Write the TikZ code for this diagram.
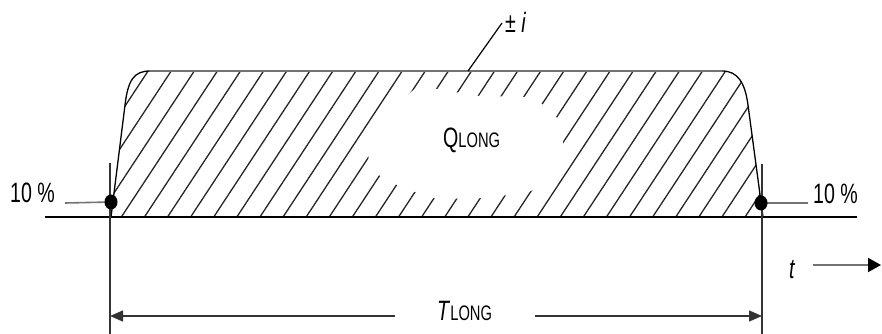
\documentclass[tikz,border=0pt]{standalone}
\usepackage{fontspec}
\newfontfamily\lf[FakeStretch=0.7]{Liberation Sans}
\usetikzlibrary{arrows.meta}
\newcommand\subcaps[1]{{\fontsize{21}{22}\selectfont #1}}
\begin{document}
\begin{tikzpicture}[x=1pt,y=-1pt,
  lbl/.style={font=\lf\fontsize{28}{30}\selectfont, inner sep=0pt, anchor=base west},
  hatch/.style={line width=1.3pt, black!85},
  outline/.style={line width=1.3pt, black},
  axisline/.style={line width=2pt, black},
  extline/.style={line width=1.3pt, black!80},
  leader/.style={line width=1.6pt, black!55},
  dimtip/.style={-{Triangle[length=13pt,width=11pt]}},
  dot/.style={fill=black}]
\useasboundingbox (0,0) rectangle (882,334);
% key points
\coordinate (b0) at (45,217);
\coordinate (b1) at (857,217);
\coordinate (vlt) at (110,163);
\coordinate (vlb) at (110,334);
\coordinate (vrt) at (762,164);
\coordinate (vrb) at (762,334);
\coordinate (dl) at (111,202);
\coordinate (dr) at (761,203);
\coordinate (al) at (110,316);
\coordinate (ar) at (762,316);
\coordinate (gl) at (395,316);
\coordinate (gr) at (535,316);
\coordinate (ll) at (65,203);
\coordinate (lr) at (808,203);
\coordinate (ts) at (813,265);
\coordinate (te) at (881,265);
\coordinate (ib) at (468,71);
\coordinate (it) at (502,23);
% hatching
\begin{scope}
\clip (111,217) -- (125,105) .. controls (128,80) and (134,71) .. (150,71) -- (722,71) .. controls (738,71) and (745,83) .. (748,105) -- (763,217) -- cycle;
\foreach \k in {-9,...,26} {
  \pgfmathsetmacro\xt{286.7+23.1*\k}
  \draw[hatch] (\xt-111.2,240) -- (\xt+13.8,50);
}
\fill[white] plot[smooth cycle, tension=0.35] coordinates {
  (411,92) (435,89) (480,96) (525,97) (545,106) (557,118) (563,145)
  (546,172) (531,191) (480,198) (433,198) (413,191) (395,184) (378,174) (369,153)};
\end{scope}
% outline of the pulse
\draw[outline] (111,217) -- (125,105) .. controls (128,80) and (134,71) .. (150,71) -- (722,71) .. controls (738,71) and (745,83) .. (748,105) -- (763,217);
\draw[line width=2.6pt, black!55] (150,71) -- (722,71);
% axis and extension lines
\draw[axisline] (b0) -- (b1);
\draw[extline] (vlt) -- (vlb);
\draw[extline] (vrt) -- (vrb);
% 10 % markers
\draw[leader] (ll) -- (dl);
\draw[leader] (dr) -- (lr);
\fill[dot] (dl) ellipse [x radius=6.5pt, y radius=7.5pt];
\fill[dot] (dr) ellipse [x radius=6.5pt, y radius=7.5pt];
\node[lbl] (p10l) at (10,202) {10 \%};
\node[lbl] (p10r) at (813,203) {10 \%};
% dimension T_LONG
\draw[extline, dimtip] (gl) -- (al);
\draw[extline, dimtip] (gr) -- (ar);
\node[lbl] (tlong) at (437,320) {\textit{T}\subcaps{LONG}};
% time arrow
\draw[line width=2pt, black!55, -{Triangle[length=13pt,width=14pt,color=black]}] (ts) -- (te);
\node[lbl] (tlab) at (789,278) {\textit{t}};
% Q_LONG
\node[lbl] (qlong) at (443,147) {Q\subcaps{LONG}};
% +- i
\draw[line width=1.2pt, black] (ib) -- (it);
\node[lbl] (pmi) at (505,33) {± \textit{i}};
\end{tikzpicture}
\end{document}
